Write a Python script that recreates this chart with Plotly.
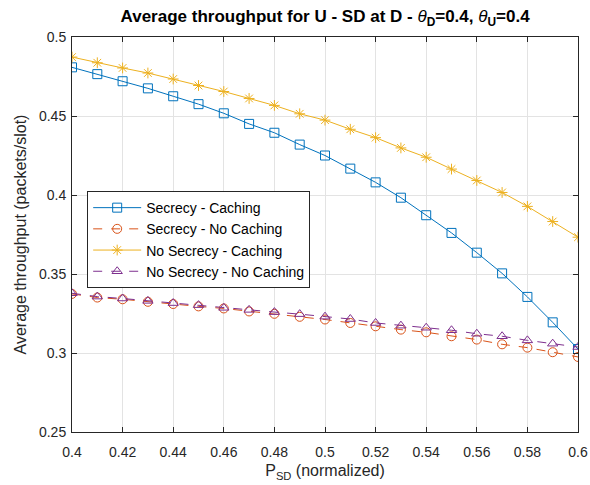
import plotly.graph_objects as go

p_sd = [0.40, 0.41, 0.42, 0.43, 0.44, 0.45, 0.46, 0.47, 0.48, 0.49, 0.50,
        0.51, 0.52, 0.53, 0.54, 0.55, 0.56, 0.57, 0.58, 0.59, 0.60]

secrecy_caching = [0.4808, 0.4765, 0.4720, 0.4675, 0.4625, 0.4575, 0.4517, 0.4450, 0.4394, 0.4319, 0.4250,
                   0.4167, 0.4080, 0.3983, 0.3872, 0.3760, 0.3635, 0.3504, 0.3355, 0.3194, 0.3025]
secrecy_no_caching = [0.3374, 0.3351, 0.3340, 0.3324, 0.3310, 0.3295, 0.3282, 0.3263, 0.3248, 0.3229, 0.3212,
                      0.3190, 0.3169, 0.3148, 0.3131, 0.3106, 0.3085, 0.3055, 0.3034, 0.3005, 0.2975]
nosecrecy_caching = [0.4873, 0.4837, 0.4804, 0.4772, 0.4734, 0.4693, 0.4655, 0.4611, 0.4567, 0.4514, 0.4474,
                     0.4416, 0.4363, 0.4298, 0.4239, 0.4164, 0.4092, 0.4016, 0.3928, 0.3832, 0.3733]
nosecrecy_no_caching = [0.3378, 0.3357, 0.3345, 0.3330, 0.3316, 0.3303, 0.3286, 0.3273, 0.3259, 0.3246, 0.3230,
                        0.3215, 0.3190, 0.3173, 0.3160, 0.3144, 0.3122, 0.3106, 0.3080, 0.3059, 0.3038]

x_ticks = [0.4, 0.42, 0.44, 0.46, 0.48, 0.5, 0.52, 0.54, 0.56, 0.58, 0.6]
y_ticks = [0.25, 0.3, 0.35, 0.4, 0.45, 0.5]

FONT = "Liberation Sans, Arial, Helvetica, sans-serif"

series = [
    ("Secrecy - Caching", secrecy_caching, "#0072BD", "square-open", "solid"),
    ("Secrecy - No Caching", secrecy_no_caching, "#D95319", "circle-open", "dash"),
    ("No Secrecy - Caching", nosecrecy_caching, "#EDB120", "asterisk-open", "solid"),
    ("No Secrecy - No Caching", nosecrecy_no_caching, "#7E2F8E", "triangle-up-open", "dash"),
]

fig = go.Figure()
for name, ys, color, sym, dash in series:
    fig.add_trace(go.Scatter(
        x=p_sd, y=ys, name=name, mode="lines+markers",
        line=dict(color=color, width=1, dash=dash),
        marker=dict(symbol=sym, size=9, color=color, line=dict(color=color, width=1)),
    ))

axis_common = dict(
    showline=True, linecolor="#262626", linewidth=1, mirror="allticks",
    ticks="inside", ticklen=5, tickcolor="#262626",
    showgrid=True, gridcolor="#E3E3E3", gridwidth=1,
    zeroline=False, tickfont=dict(family=FONT, size=14, color="#262626"),
    ticklabeloverflow="allow", automargin=False,
)

fig.update_layout(
    width=590, height=485,
    margin=dict(l=72, r=12, t=37, b=53),
    paper_bgcolor="white", plot_bgcolor="white",
    font=dict(family=FONT, color="#262626"),
    title=dict(
        text="<b>Average throughput for U - SD at D - </b><i>θ</i><b><sub>D</sub>=0.4, </b><i>θ</i><b><sub>U</sub>=0.4</b>",
        x=0.551, xanchor="center", y=0.966, yanchor="middle",
        font=dict(family=FONT, size=17, color="black"),
    ),
    xaxis=dict(**axis_common, range=[0.4, 0.6], tickvals=x_ticks, ticklabelstandoff=7,
               title=dict(text="P<sub>SD</sub> (normalized)", font=dict(family=FONT, size=16, color="#262626"), standoff=6)),
    yaxis=dict(**axis_common, range=[0.25, 0.5], tickvals=y_ticks, ticklabelstandoff=2,
               title=dict(text="Average throughput (packets/slot)", font=dict(family=FONT, size=16, color="#262626"), standoff=8)),
    legend=dict(
        x=0.03, y=0.61, xanchor="left", yanchor="top",
        bgcolor="white", bordercolor="#262626", borderwidth=1,
        font=dict(family=FONT, size=14, color="black"),
        itemwidth=48, tracegroupgap=0,
    ),
    showlegend=True,
)

fig.write_html("out.html")
